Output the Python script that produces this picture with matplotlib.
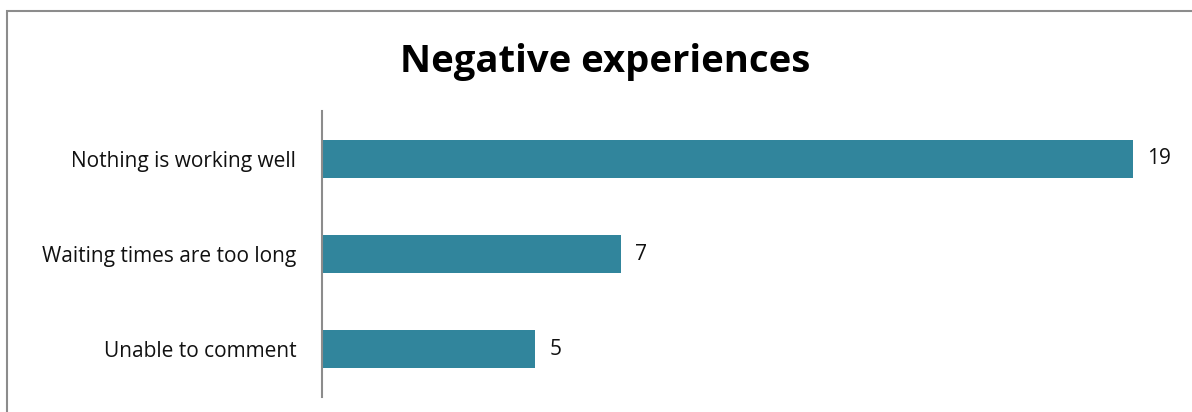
import matplotlib.pyplot as plt
from matplotlib.patches import Rectangle

categories = ["Nothing is working well", "Waiting times are too long", "Unable to comment"]
counts = [19, 7, 5]

plt.rcParams['font.family'] = ['Open Sans', 'DejaVu Sans']

fig = plt.figure(figsize=(11.92, 4.12), dpi=100)
ax = fig.add_axes([322 / 1192, 15 / 412, 853.6 / 1192, 286 / 412])

ypos = range(len(categories))
ax.barh(ypos, counts, height=0.4, color='#31859C')
for y, v in zip(ypos, counts):
    ax.text(v + 0.33, y, str(v), va='center', ha='left', fontsize=15, color='#111111')

ax.set_xlim(0, 20)
ax.set_ylim(2.5, -0.5)
ax.set_yticks(list(ypos))
ax.set_yticklabels(categories, fontsize=15, color='#111111')
ax.tick_params(axis='y', length=0, pad=18.5)
ax.set_xticks([])
for side in ['top', 'right', 'bottom']:
    ax.spines[side].set_visible(False)
ax.spines['left'].set_color('#8c8c8c')
ax.spines['left'].set_linewidth(1.5)

fig.text(605 / 1192, 1 - 72 / 412, "Negative experiences", ha='center', va='baseline',
         fontsize=27.5, fontweight='bold')

# outer frame of the chart area
fig.patches.append(Rectangle((7 / 1192, -0.1), 1.2, 1 - 11 / 412 + 0.1,
                             transform=fig.transFigure, fill=False,
                             edgecolor='#8c8c8c', linewidth=1.5))

fig.savefig('out.png', dpi=100)
